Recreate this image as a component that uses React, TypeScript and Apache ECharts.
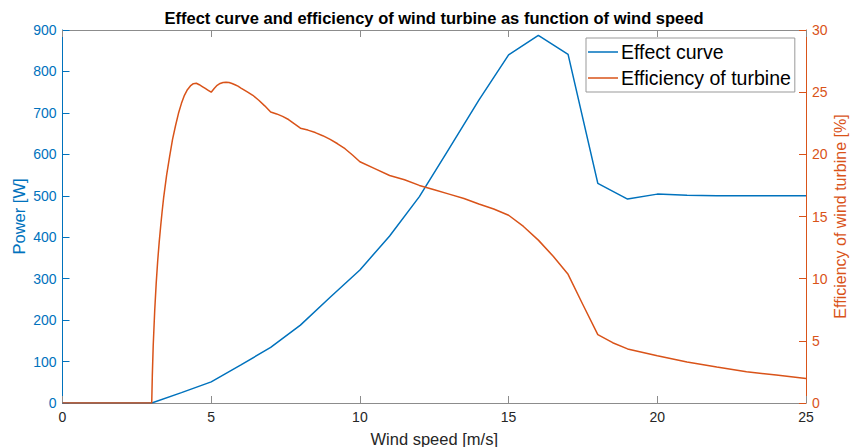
import React, { useEffect, useRef } from "react";
import * as echarts from "echarts";

// Wind speed grid for the power curve [m/s]
const windSpeed = [0, 1, 2, 3, 4, 5, 6, 7, 8, 9, 10, 11, 12, 13, 14, 15, 16, 17, 18, 19, 20, 21, 22, 23, 24, 25];
// Electrical power output [W]
const power = [0, 0, 0, 0, 25, 51, 92, 134, 188, 255, 321, 403, 498, 614, 731, 840, 887, 841, 530, 492, 504, 501, 500, 500, 500, 500];

// Turbine efficiency samples [m/s] -> [%]
const effSpeed = [
  0, 3, 3.02, 3.05, 3.1, 3.15, 3.2, 3.25, 3.3, 3.35, 3.4, 3.5, 3.6, 3.7, 3.8, 3.9, 4.0, 4.1, 4.2, 4.3, 4.4, 4.5,
  4.6, 4.7, 4.8, 4.9, 5.0, 5.1, 5.2, 5.3, 5.4, 5.5, 5.6, 5.7, 5.8, 5.9, 6.0, 6.2, 6.4, 6.6, 6.8, 7.0, 7.2, 7.4,
  7.6, 7.8, 8.0, 8.25, 8.5, 8.75, 9.0, 9.25, 9.5, 9.75, 10, 10.5, 11, 11.5, 12, 12.5, 13, 13.5, 14, 14.5, 15,
  15.5, 16, 16.5, 17, 17.5, 18, 18.5, 19, 20, 21, 22, 23, 24, 25,
];
const effValue = [
  0, 0, 2.2, 4.6, 7.4, 9.6, 11.4, 12.9, 14.2, 15.4, 16.5, 18.3, 19.8, 21.2, 22.3, 23.3, 24.1, 24.75, 25.2, 25.5, 25.68, 25.72,
  25.6, 25.45, 25.3, 25.15, 25.0, 25.3, 25.55, 25.7, 25.78, 25.8, 25.78, 25.7, 25.6, 25.48, 25.33, 25.05, 24.75, 24.35, 23.9, 23.4, 23.25, 23.05,
  22.8, 22.45, 22.1, 21.95, 21.75, 21.5, 21.2, 20.85, 20.45, 19.95, 19.4, 18.85, 18.3, 17.95, 17.5, 17.15, 16.8, 16.45, 16.0, 15.6, 15.1,
  14.2, 13.1, 11.8, 10.35, 7.9, 5.5, 4.85, 4.35, 3.8, 3.3, 2.9, 2.52, 2.25, 1.98,
];

const xTicks = { min: 0, max: 25, interval: 5 };
const powerTicks = { min: 0, max: 900, interval: 100 };
const effTicks = { min: 0, max: 30, interval: 5 };

const BLUE = "#0072BD";
const ORANGE = "#D95319";
const AXIS_GRAY = "#8c8c8c";
const TEXT_GRAY = "#262626";
const FONT = "'Liberation Sans', Arial, Helvetica, sans-serif";

export default function App() {
  const ref = useRef<HTMLDivElement>(null);

  useEffect(() => {
    if (!ref.current) return;
    const chart = echarts.init(ref.current, undefined, { renderer: "svg" });

    const powerData = windSpeed.map((x, i) => [x, power[i]]);
    const effData = effSpeed.map((x, i) => [x, effValue[i]]);

    chart.setOption({
      animation: false,
      backgroundColor: "#ffffff",
      textStyle: { fontFamily: FONT },
      title: {
        text: "Effect curve and efficiency of wind turbine as function of wind speed",
        left: 434,
        textAlign: "center",
        top: 9,
        padding: 0,
        textStyle: { fontFamily: FONT, fontSize: 16.5, fontWeight: "bold", color: "#000" },
      },
      legend: {
        orient: "vertical",
        left: 586,
        top: 38,
        padding: [3, 4, 3, 2],
        itemWidth: 30,
        itemHeight: 1.5,
        itemGap: 4,
        icon: "rect",
        borderColor: "#999999",
        borderWidth: 1,
        borderRadius: 0,
        backgroundColor: "#ffffff",
        textStyle: { fontFamily: FONT, fontSize: 19.5, color: "#000", lineHeight: 22, padding: [0, 0, 0, -2] },
        data: ["Effect curve", "Efficiency of turbine"],
      },
      grid: { left: 62.5, right: 45, top: 30, bottom: 44, containLabel: false, outerBoundsMode: "none" },
      xAxis: [
        {
          type: "value",
          position: "bottom",
          ...xTicks,
          name: "Wind speed [m/s]",
          nameLocation: "middle",
          nameGap: 27,
          nameMoveOverlap: false,
          nameTextStyle: { fontFamily: FONT, fontSize: 16.5, color: TEXT_GRAY },
          axisLine: { show: true, onZero: false, lineStyle: { color: AXIS_GRAY, width: 1 } },
          axisTick: { show: true, inside: true, length: 7, lineStyle: { color: AXIS_GRAY } },
          axisLabel: { fontFamily: FONT, fontSize: 14, color: TEXT_GRAY, margin: 7 },
          splitLine: { show: false },
        },
        {
          type: "value",
          position: "top",
          ...xTicks,
          axisLine: { show: true, onZero: false, lineStyle: { color: AXIS_GRAY, width: 1 } },
          axisTick: { show: true, inside: true, length: 7, lineStyle: { color: AXIS_GRAY } },
          axisLabel: { show: false },
          splitLine: { show: false },
        },
      ],
      yAxis: [
        {
          type: "value",
          position: "left",
          ...powerTicks,
          name: "Power [W]",
          nameLocation: "middle",
          nameGap: 35,
          nameMoveOverlap: false,
          nameRotate: 90,
          nameTextStyle: { fontFamily: FONT, fontSize: 16.5, color: BLUE },
          axisLine: { show: true, onZero: false, lineStyle: { color: BLUE, width: 1 } },
          axisTick: { show: true, inside: true, length: 7, lineStyle: { color: BLUE } },
          axisLabel: { fontFamily: FONT, fontSize: 14, color: BLUE, margin: 6 },
          splitLine: { show: false },
        },
        {
          type: "value",
          position: "right",
          ...effTicks,
          name: "Efficiency of wind turbine [%]",
          nameLocation: "middle",
          nameGap: 26,
          nameMoveOverlap: false,
          nameRotate: 90,
          nameTextStyle: { fontFamily: FONT, fontSize: 16, color: ORANGE },
          axisLine: { show: true, onZero: false, lineStyle: { color: ORANGE, width: 1 } },
          axisTick: { show: true, inside: true, length: 7, lineStyle: { color: ORANGE } },
          axisLabel: { fontFamily: FONT, fontSize: 14, color: ORANGE, margin: 6 },
          splitLine: { show: false },
        },
      ],
      series: [
        {
          name: "Effect curve",
          type: "line",
          xAxisIndex: 0,
          yAxisIndex: 0,
          data: powerData,
          symbol: "none",
          lineStyle: { color: BLUE, width: 1.5 },
          itemStyle: { color: BLUE },
          z: 2,
        },
        {
          name: "Efficiency of turbine",
          type: "line",
          xAxisIndex: 0,
          yAxisIndex: 1,
          data: effData,
          symbol: "none",
          lineStyle: { color: ORANGE, width: 1.5 },
          itemStyle: { color: ORANGE },
          z: 3,
        },
      ],
    });

    return () => chart.dispose();
  }, []);

  return <div ref={ref} style={{ width: 851, height: 447, position: "absolute", left: 0, top: 0 }} />;
}
